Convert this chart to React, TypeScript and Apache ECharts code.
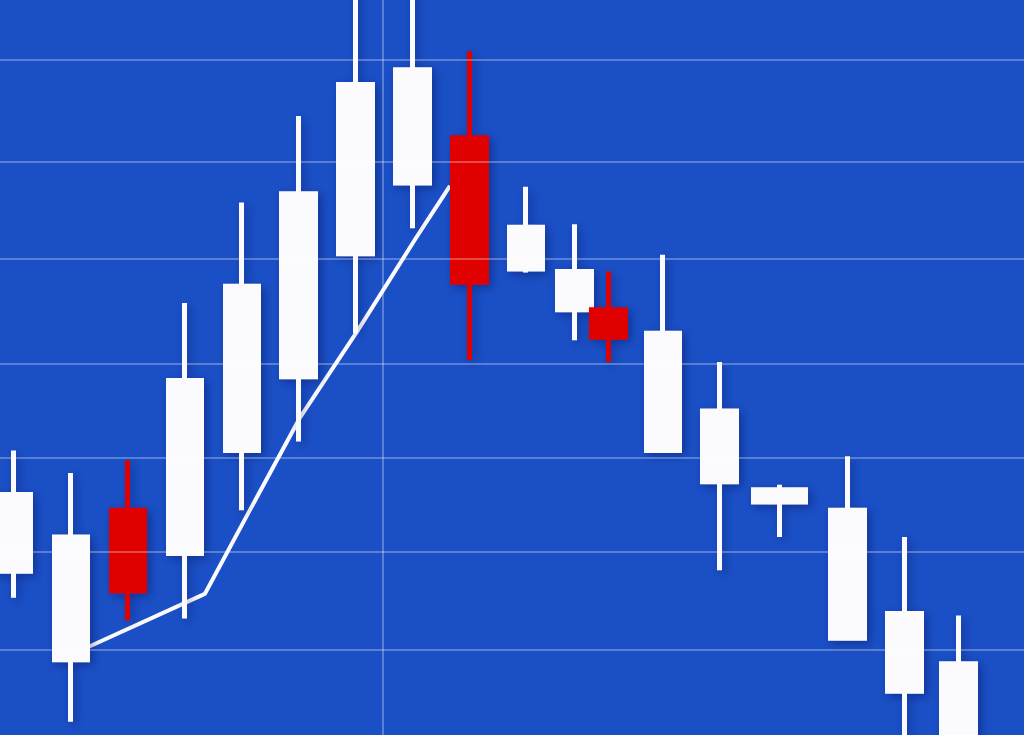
import React, { useEffect, useRef } from "react";
import * as echarts from "echarts";

// Session positions (x) and OHLC values
const days = [0, 1, 2, 3, 4, 5, 6, 7, 8, 9, 9.85, 10.45, 11.4, 12.4, 13.45, 14.65, 15.65, 16.6];
const opens = [48.0, 39.0, 54.2, 49.8, 60.3, 67.8, 80.3, 87.5, 92.1, 78.75, 74.6, 74.6, 60.3, 57.1, 55.05, 41.2, 35.8, 30.0];
const closes = [55.8, 51.5, 46.0, 67.4, 77.0, 86.4, 97.5, 99.0, 77.4, 83.0, 78.5, 71.8, 72.2, 64.3, 56.3, 54.2, 43.7, 38.6];
const lows = [45.3, 32.7, 43.0, 43.2, 54.2, 61.2, 72.2, 82.9, 69.5, 78.4, 71.5, 69.3, 60.1, 48.1, 51.5, 41.0, 30.0, 29.0];
const highs = [60.3, 58.0, 59.3, 75.3, 85.5, 94.3, 108.0, 108.0, 100.9, 87.1, 83.3, 78.5, 80.2, 69.3, 56.8, 59.7, 51.5, 43.5];
// index of the wide doji-like candle
const wideIndex = 14;

// moving average line
const maDays = [1.3, 3.35, 4.14, 5.02, 6.04, 7.04, 7.66];
const maValues = [40.3, 45.7, 54.2, 63.6, 72.5, 81.7, 87.2];

// horizontal grid levels and vertical reference line
const gridLevels = [100, 89.7, 79.8, 69.1, 59.6, 50.0, 40.0];
const vLineDay = [6.48];

const BG = "#1a4fc6";
const GRID = "rgba(255,255,255,0.28)";
const WHITE = "#fbfbfd";
const RED = "#e00202";

export default function App() {
  const ref = useRef<HTMLDivElement>(null);
  useEffect(() => {
    if (!ref.current) return;
    const chart = echarts.init(ref.current, undefined, { renderer: "svg" });
    const rows = days.map((d, i) => [d, opens[i], closes[i], lows[i], highs[i]]);
    const mainRows = rows.filter((_, i) => i !== wideIndex);
    const wideRows = rows.filter((_, i) => i === wideIndex);
    const candleStyle = {
      color: WHITE,
      color0: RED,
      borderColor: WHITE,
      borderColor0: RED,
      borderWidth: 5,
      shadowBlur: 10,
      shadowColor: "rgba(0,10,60,0.35)",
      shadowOffsetX: 3,
      shadowOffsetY: 3,
    };
    chart.setOption({
      animation: false,
      backgroundColor: BG,
      grid: {
        left: 0,
        right: 0,
        top: -38.3,
        bottom: -13.3,
        containLabel: false,
        outerBoundsMode: "none",
      },
      xAxis: {
        type: "value",
        min: -0.25,
        max: 17.75,
        axisLine: { show: false },
        axisTick: { show: false },
        axisLabel: { show: false },
        splitLine: { show: false },
      },
      yAxis: {
        type: "value",
        min: 30,
        max: 110,
        interval: 10,
        axisLine: { show: false },
        axisTick: { show: false },
        axisLabel: { show: false },
        splitLine: { show: false },
      },
      series: [
        {
          type: "line",
          data: maDays.map((d, i) => [d, maValues[i]]),
          showSymbol: false,
          symbol: "none",
          lineStyle: { color: WHITE, width: 4 },
          z: 1,
          markLine: {
            silent: true,
            symbol: "none",
            label: { show: false },
            lineStyle: { color: GRID, width: 2, type: "solid" },
            data: [
              ...vLineDay.map((v) => ({ xAxis: v })),
              ...gridLevels.map((v) => ({ yAxis: v })),
            ],
          },
        },
        {
          type: "candlestick",
          data: mainRows,
          encode: { x: 0, y: [1, 2, 3, 4] },
          barWidth: 34,
          itemStyle: candleStyle,
          z: 3,
        },
        {
          type: "candlestick",
          data: wideRows,
          encode: { x: 0, y: [1, 2, 3, 4] },
          barWidth: 53,
          itemStyle: { ...candleStyle, borderWidth: 5 },
          z: 3,
        },
      ],
    });
    return () => chart.dispose();
  }, []);
  return (
    <div
      ref={ref}
      style={{ position: "absolute", left: 0, top: 0, width: 1024, height: 735 }}
    />
  );
}
